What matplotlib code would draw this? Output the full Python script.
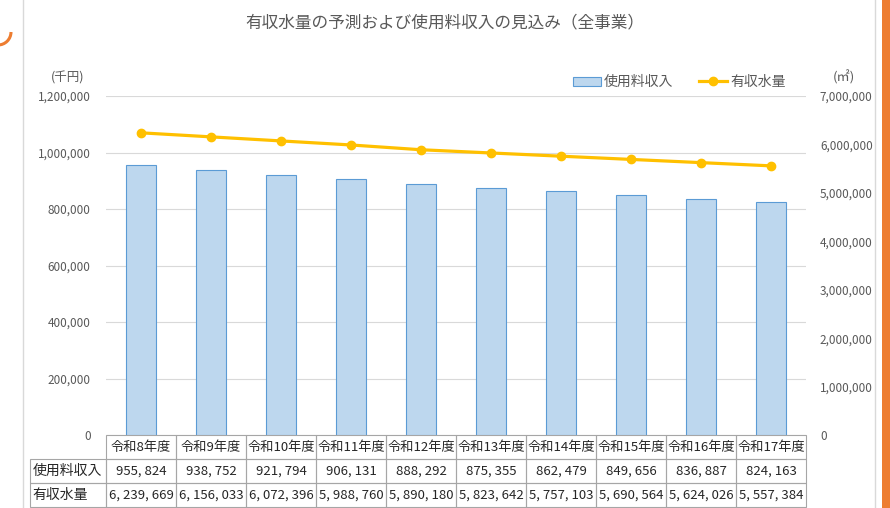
import numpy as np
import matplotlib
matplotlib.use("Agg")
import matplotlib.pyplot as plt
from matplotlib.patches import Rectangle, Arc
from matplotlib.lines import Line2D
import matplotlib.transforms as mtransforms

plt.rcParams['font.family'] = ['Noto Sans CJK JP', 'DejaVu Sans']

# data
years = ["令和8年度", "令和9年度", "令和10年度", "令和11年度", "令和12年度",
         "令和13年度", "令和14年度", "令和15年度", "令和16年度", "令和17年度"]
revenue = [955824, 938752, 921794, 906131, 888292, 875355, 862479, 849656, 836887, 824163]
water = [6239669, 6156033, 6072396, 5988760, 5890180, 5823642, 5757103, 5690564, 5624026, 5557384]
row_labels = ["使用料収入", "有収水量"]
left_ticks = [0, 200000, 400000, 600000, 800000, 1000000, 1200000]
right_ticks = [0, 1000000, 2000000, 3000000, 4000000, 5000000, 6000000, 7000000]

W, H = 890, 508
fig = plt.figure(figsize=(W / 100, H / 100), dpi=100)
fig.patch.set_facecolor("white")

# chart frame and decorations
fig.patches.append(Rectangle((23 / W, -0.01), (875 - 23) / W, 1.02, transform=fig.transFigure,
                             fill=False, edgecolor="#D9D9D9", lw=1.0))
fig.patches.append(Rectangle((882 / W, 0), 8 / W, 1, transform=fig.transFigure,
                             facecolor="#ED7D31", edgecolor="none"))
fig.patches.append(Arc((-2 / W, 1 - 32 / H), 26 / W, 26 / H, theta1=270, theta2=360,
                       transform=fig.transFigure, color="#ED7D31", lw=2.2))

ax = fig.add_axes([106 / W, 1 - 435 / H, 700 / W, 339 / H])
x = np.arange(len(years))
ax.bar(x, revenue, width=0.42, color="#BDD7EE", edgecolor="#5B9BD5", lw=0.8, zorder=2,
       label="使用料収入")
ax.set_xlim(-0.5, len(years) - 0.5)
ax.set_ylim(0, 1200000)
ax.set_yticks(left_ticks)
ax.set_yticklabels([f"{v:,}" for v in left_ticks])
ax.set_xticks([])
ax.grid(axis="y", color="#D9D9D9", lw=0.8, zorder=0)
for s in ax.spines.values():
    s.set_visible(False)
ax.tick_params(axis="y", length=0, pad=11, labelsize=8.5, labelcolor="#595959")

ax2 = ax.twinx()
ax2.plot(x, water, color="#FFC000", lw=2.3, marker="o", ms=6, label="有収水量", zorder=3)
ax2.set_ylim(0, 7000000)
ax2.set_yticks(right_ticks)
ax2.set_yticklabels([f"{v:,}" for v in right_ticks])
for s in ax2.spines.values():
    s.set_visible(False)
ax2.tick_params(axis="y", length=0, pad=10, labelsize=8.5, labelcolor="#595959")

# title, units
fig.text(445 / W, 1 - 23 / H, "有収水量の予測および使用料収入の見込み（全事業）",
         ha="center", va="center", fontsize=12, color="#595959")
fig.text(68 / W, 1 - 78 / H, "(千円)", ha="center", va="center", fontsize=9, color="#595959")
fig.text(844 / W, 1 - 77 / H, "(㎡)", ha="center", va="center", fontsize=9.5, color="#595959")

# legend
handles = [Rectangle((0, 0), 1, 1, facecolor="#BDD7EE", edgecolor="#5B9BD5", lw=0.8),
           Line2D([], [], color="#FFC000", lw=2.3, marker="o", ms=6)]
ax.legend(handles, ["使用料収入", "有収水量"], loc="center", bbox_to_anchor=(0.819, 1.041),
          ncol=2, frameon=False, fontsize=10, handlelength=2.0, handletextpad=0.2,
          columnspacing=1.9, labelcolor="#595959", handleheight=0.6)

# data table below the axis
trans = mtransforms.blended_transform_factory(ax.transData, ax.transAxes)
row_h = 24 / 339
label_left = -0.5 - 76 / 70
grid_col = "#A6A6A6"
tbl_font = 9.5
for i, name in enumerate(years):
    ax.add_patch(Rectangle((i - 0.5, -row_h), 1, row_h, transform=trans, fill=False,
                           edgecolor=grid_col, lw=0.8, clip_on=False))
    ax.text(i, -row_h / 2, name, transform=trans, ha="center", va="center",
            fontsize=tbl_font, color="#262626", clip_on=False)
rows = [revenue, water]
for r, (label, vals) in enumerate(zip(row_labels, rows)):
    y0 = -row_h * (r + 2)
    ax.add_patch(Rectangle((label_left, y0), -0.5 - label_left, row_h, transform=trans,
                           fill=False, edgecolor=grid_col, lw=0.8, clip_on=False))
    ax.text(label_left + 0.04, y0 + row_h / 2, label, transform=trans, ha="left", va="center",
            fontsize=10, color="#262626", clip_on=False)
    for i, v in enumerate(vals):
        ax.add_patch(Rectangle((i - 0.5, y0), 1, row_h, transform=trans, fill=False,
                               edgecolor=grid_col, lw=0.8, clip_on=False))
        ax.text(i, y0 + row_h / 2, f"{v:,}".replace(",", ", "), transform=trans,
                ha="center", va="center", fontsize=tbl_font, color="#262626", clip_on=False)

fig.savefig("out.png", dpi=100)
